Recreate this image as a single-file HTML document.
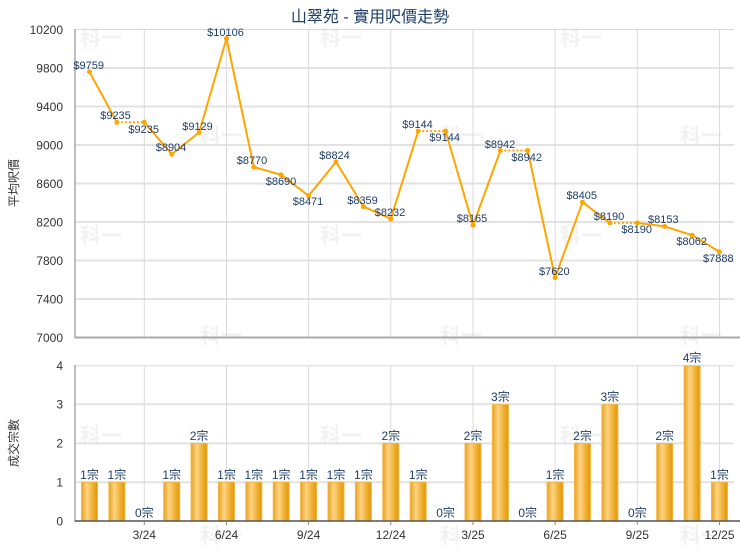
<!DOCTYPE html>
<html><head><meta charset="utf-8"><style>
html,body{margin:0;padding:0;background:#fff;}
svg{display:block;}
text{font-family:"Liberation Sans","Noto Sans CJK TC",sans-serif;}
</style></head><body>
<svg width="740" height="550" viewBox="0 0 740 550" xmlns="http://www.w3.org/2000/svg">
<defs>
<linearGradient id="bg" x1="0" x2="1" y1="0" y2="0">
<stop offset="0" stop-color="#e9a11e"/>
<stop offset="0.35" stop-color="#fdd484"/>
<stop offset="0.7" stop-color="#f0b134"/>
<stop offset="1" stop-color="#e29508"/>
</linearGradient>
</defs>
<rect width="740" height="550" fill="#fff"/>
<!-- watermarks -->
<g font-size="21" font-weight="bold" fill="#f2f2f2" style="font-family:'Noto Sans CJK TC',sans-serif">
<text x="80" y="45">科一</text><text x="320" y="45">科一</text><text x="560" y="45">科一</text>
<text x="200" y="143">科一</text><text x="440" y="143">科一</text><text x="680" y="143">科一</text>
<text x="80" y="243">科一</text><text x="320" y="243">科一</text><text x="560" y="243">科一</text>
<text x="200" y="343">科一</text><text x="440" y="343">科一</text><text x="680" y="343">科一</text>
<text x="80" y="443">科一</text><text x="320" y="443">科一</text><text x="560" y="443">科一</text>
<text x="200" y="543">科一</text><text x="440" y="543">科一</text><text x="680" y="543">科一</text>
</g>
<!-- title -->
<text x="370" y="22" text-anchor="middle" font-size="16" fill="#1f3f66">山翠苑 - 實用呎價走勢</text>

<!-- top grid -->
<g stroke="#e2e2e2" stroke-width="2">
<line x1="75" y1="68" x2="734" y2="68"/>
<line x1="75" y1="106.5" x2="734" y2="106.5"/>
<line x1="75" y1="145" x2="734" y2="145"/>
<line x1="75" y1="183.5" x2="734" y2="183.5"/>
<line x1="75" y1="222" x2="734" y2="222"/>
<line x1="75" y1="260.5" x2="734" y2="260.5"/>
<line x1="75" y1="299" x2="734" y2="299"/>
</g>
<line x1="75" y1="29.5" x2="734" y2="29.5" stroke="#d8d8d8" stroke-width="1"/>
<g stroke="#dadada" stroke-width="1">
<line x1="144.3" y1="29.5" x2="144.3" y2="337"/>
<line x1="226.5" y1="29.5" x2="226.5" y2="337"/>
<line x1="308.6" y1="29.5" x2="308.6" y2="337"/>
<line x1="390.8" y1="29.5" x2="390.8" y2="337"/>
<line x1="473" y1="29.5" x2="473" y2="337"/>
<line x1="555.1" y1="29.5" x2="555.1" y2="337"/>
<line x1="637.3" y1="29.5" x2="637.3" y2="337"/>
<line x1="719.5" y1="29.5" x2="719.5" y2="337"/>
</g>
<line x1="75" y1="29" x2="75" y2="338" stroke="#a8a8a8" stroke-width="1.5"/>
<line x1="75" y1="337.5" x2="740" y2="337.5" stroke="#aaaaaa" stroke-width="2"/>

<!-- top y labels -->
<g font-size="12" fill="#333" text-anchor="end">
<text x="63" y="34">10200</text>
<text x="63" y="72.5">9800</text>
<text x="63" y="111">9400</text>
<text x="63" y="149.5">9000</text>
<text x="63" y="188">8600</text>
<text x="63" y="226.5">8200</text>
<text x="63" y="265">7800</text>
<text x="63" y="303.5">7400</text>
<text x="63" y="342">7000</text>
</g>
<text transform="translate(18,183) rotate(-90)" text-anchor="middle" font-size="12" fill="#333">平均呎價</text>

<!-- line series -->
<g fill="none" stroke="#ffa500" stroke-width="2" stroke-linejoin="round">
<polyline points="89.5,71.9 116.9,122.3"/>
<polyline points="144.3,122.3 171.7,154.2 199.1,132.5 226.5,38.5 253.8,167.1 281.2,174.8 308.6,195.8 336,161.9 363.4,206.6 390.8,218.8 418.2,131.1"/>
<polyline points="445.6,131.1 473,225.3 500.4,150.5"/>
<polyline points="527.7,150.5 555.1,277.7 582.5,202.2 609.9,222.9"/>
<polyline points="637.3,222.9 664.7,226.4 692.1,235.2 719.5,251.9"/>
</g>
<g fill="none" stroke="#ffa500" stroke-width="2" stroke-dasharray="2,2">
<line x1="116.9" y1="122.3" x2="144.3" y2="122.3"/>
<line x1="418.2" y1="131.1" x2="445.6" y2="131.1"/>
<line x1="500.4" y1="150.5" x2="527.7" y2="150.5"/>
<line x1="609.9" y1="222.9" x2="637.3" y2="222.9"/>
</g>
<g fill="#ffa500">
<circle cx="89.5" cy="71.9" r="2.5"/><circle cx="116.9" cy="122.3" r="2.5"/><circle cx="144.3" cy="122.3" r="2.5"/>
<circle cx="171.7" cy="154.2" r="2.5"/><circle cx="199.1" cy="132.5" r="2.5"/><circle cx="226.5" cy="38.5" r="2.5"/>
<circle cx="253.8" cy="167.1" r="2.5"/><circle cx="281.2" cy="174.8" r="2.5"/><circle cx="308.6" cy="195.8" r="2.5"/>
<circle cx="336" cy="161.9" r="2.5"/><circle cx="363.4" cy="206.6" r="2.5"/><circle cx="390.8" cy="218.8" r="2.5"/>
<circle cx="418.2" cy="131.1" r="2.5"/><circle cx="445.6" cy="131.1" r="2.5"/><circle cx="473" cy="225.3" r="2.5"/>
<circle cx="500.4" cy="150.5" r="2.5"/><circle cx="527.7" cy="150.5" r="2.5"/><circle cx="555.1" cy="277.7" r="2.5"/>
<circle cx="582.5" cy="202.2" r="2.5"/><circle cx="609.9" cy="222.9" r="2.5"/><circle cx="637.3" cy="222.9" r="2.5"/>
<circle cx="664.7" cy="226.4" r="2.5"/><circle cx="692.1" cy="235.2" r="2.5"/><circle cx="719.5" cy="251.9" r="2.5"/>
</g>
<!-- point labels -->
<g font-size="11" fill="#1f3f66" text-anchor="middle">
<text x="88.7" y="69">$9759</text>
<text x="115.5" y="119">$9235</text>
<text x="143.7" y="133">$9235</text>
<text x="171" y="151">$8904</text>
<text x="197.5" y="130">$9129</text>
<text x="225.5" y="36">$10106</text>
<text x="252" y="164">$8770</text>
<text x="281" y="185">$8690</text>
<text x="308" y="205">$8471</text>
<text x="334.5" y="159">$8824</text>
<text x="362.5" y="204">$8359</text>
<text x="390" y="216">$8232</text>
<text x="417.5" y="128">$9144</text>
<text x="444.7" y="141">$9144</text>
<text x="472" y="222">$8165</text>
<text x="500" y="148">$8942</text>
<text x="526.7" y="161">$8942</text>
<text x="554.3" y="275">$7620</text>
<text x="581.7" y="199">$8405</text>
<text x="609" y="220">$8190</text>
<text x="636.7" y="233">$8190</text>
<text x="663.3" y="223">$8153</text>
<text x="691.7" y="245">$8062</text>
<text x="718.3" y="262">$7888</text>
</g>

<!-- bottom chart grid -->
<g stroke="#e2e2e2" stroke-width="2">
<line x1="75" y1="404.2" x2="734" y2="404.2"/>
<line x1="75" y1="443.4" x2="734" y2="443.4"/>
<line x1="75" y1="482.2" x2="734" y2="482.2"/>
</g>
<line x1="75" y1="365.8" x2="734" y2="365.8" stroke="#d8d8d8" stroke-width="1"/>
<g stroke="#dadada" stroke-width="1">
<line x1="144.3" y1="365.8" x2="144.3" y2="521"/>
<line x1="226.5" y1="365.8" x2="226.5" y2="521"/>
<line x1="308.6" y1="365.8" x2="308.6" y2="521"/>
<line x1="390.8" y1="365.8" x2="390.8" y2="521"/>
<line x1="473" y1="365.8" x2="473" y2="521"/>
<line x1="555.1" y1="365.8" x2="555.1" y2="521"/>
<line x1="637.3" y1="365.8" x2="637.3" y2="521"/>
<line x1="719.5" y1="365.8" x2="719.5" y2="521"/>
</g>
<line x1="75" y1="365" x2="75" y2="522" stroke="#a8a8a8" stroke-width="1.5"/>

<!-- bars -->
<g fill="url(#bg)" stroke="#f3b640" stroke-width="1">
<rect x="81.5" y="482.2" width="16" height="38.8"/>
<rect x="108.9" y="482.2" width="16" height="38.8"/>
<rect x="163.7" y="482.2" width="16" height="38.8"/>
<rect x="191.1" y="443.4" width="16" height="77.6"/>
<rect x="218.5" y="482.2" width="16" height="38.8"/>
<rect x="245.8" y="482.2" width="16" height="38.8"/>
<rect x="273.2" y="482.2" width="16" height="38.8"/>
<rect x="300.6" y="482.2" width="16" height="38.8"/>
<rect x="328" y="482.2" width="16" height="38.8"/>
<rect x="355.4" y="482.2" width="16" height="38.8"/>
<rect x="382.8" y="443.4" width="16" height="77.6"/>
<rect x="410.2" y="482.2" width="16" height="38.8"/>
<rect x="465" y="443.4" width="16" height="77.6"/>
<rect x="492.4" y="404.6" width="16" height="116.4"/>
<rect x="547.1" y="482.2" width="16" height="38.8"/>
<rect x="574.5" y="443.4" width="16" height="77.6"/>
<rect x="601.9" y="404.6" width="16" height="116.4"/>
<rect x="656.7" y="443.4" width="16" height="77.6"/>
<rect x="684.1" y="365.8" width="16" height="155.2"/>
<rect x="711.5" y="482.2" width="16" height="38.8"/>
</g>
<line x1="75" y1="521" x2="740" y2="521" stroke="#555" stroke-width="1.5"/>
<g stroke="#888" stroke-width="1">
<line x1="144.3" y1="521" x2="144.3" y2="525"/>
<line x1="226.5" y1="521" x2="226.5" y2="525"/>
<line x1="308.6" y1="521" x2="308.6" y2="525"/>
<line x1="390.8" y1="521" x2="390.8" y2="525"/>
<line x1="473" y1="521" x2="473" y2="525"/>
<line x1="555.1" y1="521" x2="555.1" y2="525"/>
<line x1="637.3" y1="521" x2="637.3" y2="525"/>
<line x1="719.5" y1="521" x2="719.5" y2="525"/>
</g>
<!-- bar labels -->
<g font-size="12" fill="#1f3f66" text-anchor="middle">
<text x="89.5" y="479">1宗</text>
<text x="116.9" y="479">1宗</text>
<text x="144.3" y="517">0宗</text>
<text x="171.7" y="479">1宗</text>
<text x="199.1" y="440">2宗</text>
<text x="226.5" y="479">1宗</text>
<text x="253.8" y="479">1宗</text>
<text x="281.2" y="479">1宗</text>
<text x="308.6" y="479">1宗</text>
<text x="336" y="479">1宗</text>
<text x="363.4" y="479">1宗</text>
<text x="390.8" y="440">2宗</text>
<text x="418.2" y="479">1宗</text>
<text x="445.6" y="517">0宗</text>
<text x="473" y="440">2宗</text>
<text x="500.4" y="401">3宗</text>
<text x="527.7" y="517">0宗</text>
<text x="555.1" y="479">1宗</text>
<text x="582.5" y="440">2宗</text>
<text x="609.9" y="401">3宗</text>
<text x="637.3" y="517">0宗</text>
<text x="664.7" y="440">2宗</text>
<text x="692.1" y="362">4宗</text>
<text x="719.5" y="479">1宗</text>
</g>
<!-- bottom y labels -->
<g font-size="12" fill="#333" text-anchor="end">
<text x="63" y="370">4</text>
<text x="63" y="408.5">3</text>
<text x="63" y="447.5">2</text>
<text x="63" y="486.5">1</text>
<text x="63" y="525.5">0</text>
</g>
<text transform="translate(18,443) rotate(-90)" text-anchor="middle" font-size="12" fill="#333">成交宗數</text>
<!-- x labels -->
<g font-size="12" fill="#333" text-anchor="middle">
<text x="144.3" y="539">3/24</text>
<text x="226.5" y="539">6/24</text>
<text x="308.6" y="539">9/24</text>
<text x="390.8" y="539">12/24</text>
<text x="473" y="539">3/25</text>
<text x="555.1" y="539">6/25</text>
<text x="637.3" y="539">9/25</text>
<text x="719.5" y="539">12/25</text>
</g>
</svg>
</body></html>
